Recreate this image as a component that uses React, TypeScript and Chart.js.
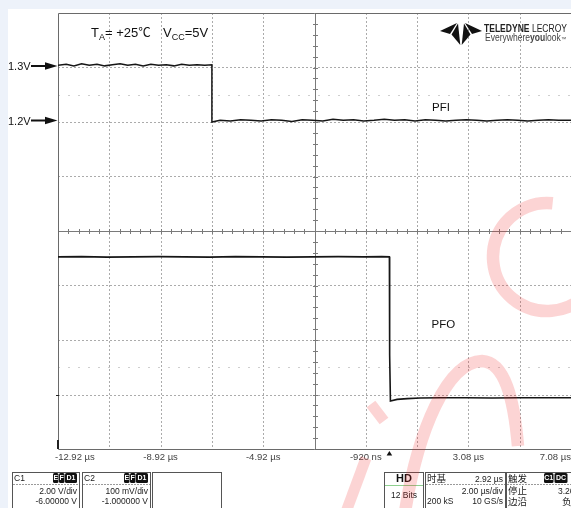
import React, { useEffect, useRef } from "react";
import { Chart, registerables } from "chart.js";

Chart.register(...registerables);

// ---------------- data ----------------
// time axis: 2.00 µs/div, delay 2.92 µs -> screen spans -12.92 .. 7.08 µs
const timeDivisions = [-12.92, -10.92, -8.92, -6.92, -4.92, -2.92, -0.92, 1.08, 3.08, 5.08, 7.08];
const timeTickValues = [-12.92, -8.92, -4.92, -0.92, 3.08, 7.08];
const timeTickLabels = ["-12.92 µs", "-8.92 µs", "-4.92 µs", "-920 ns", "3.08 µs", "7.08 µs"];
// C2 (PFI): 100 mV/div, offset -1.0 V  -> 0.6 .. 1.4 V on screen
const c2Divisions = [0.6, 0.7, 0.8, 0.9, 1.0, 1.1, 1.2, 1.3, 1.4];
const c2Min = 0.6;
const c2Max = 1.4;
// C1 (PFO): 2.00 V/div, offset -6.0 V -> -2 .. 14 V on screen
const c1Min = -2;
const c1Max = 14;
const triggerTime = 0;
const markerVolts = [1.3, 1.2];
const markerLabels = ["1.3V", "1.2V"];
const faintLevels = [1.25, 0.75];

// PFI trace (C2), time in µs, volts
const pfiTime = [
  -12.92, -12.6, -12.3, -12.0, -11.7, -11.4, -11.1, -10.8, -10.5, -10.2,
  -9.9, -9.6, -9.3, -9.0, -8.7, -8.4, -8.1, -7.8, -7.5, -7.2,
  -6.92, -6.92, -6.6, -6.2, -5.8, -5.4, -5.0, -4.6, -4.2, -3.8,
  -3.4, -3.0, -2.6, -2.2, -1.8, -1.4, -1.0, -0.6, -0.2, 0.2,
  0.6, 1.0, 1.4, 1.8, 2.2, 2.6, 3.0, 3.4, 3.8, 4.2,
  4.6, 5.0, 5.4, 5.8, 6.2, 6.6, 7.08,
];
const pfiVolts = [
  1.304, 1.306, 1.303, 1.307, 1.304, 1.306, 1.303, 1.305, 1.307, 1.304,
  1.306, 1.303, 1.306, 1.304, 1.305, 1.303, 1.306, 1.304, 1.305, 1.304,
  1.305, 1.2, 1.203, 1.202, 1.204, 1.203, 1.202, 1.204, 1.203, 1.201,
  1.204, 1.203, 1.202, 1.205, 1.203, 1.204, 1.202, 1.203, 1.205, 1.203,
  1.204, 1.202, 1.204, 1.203, 1.202, 1.203, 1.204, 1.203, 1.202, 1.203,
  1.204, 1.203, 1.202, 1.203, 1.204, 1.203, 1.203,
];

// PFO trace (C1), time in µs, volts
const pfoTime = [
  -12.92, -12.0, -11.0, -10.0, -9.0, -8.0, -7.0, -6.0, -5.0, -4.0,
  -3.0, -2.0, -1.0, -0.3, 0.0, 0.0, 0.02, 0.04, 0.3, 0.7,
  1.2, 2.0, 3.0, 4.0, 5.0, 6.0, 7.08,
];
const pfoVolts = [
  5.05, 5.06, 5.04, 5.05, 5.06, 5.05, 5.04, 5.06, 5.05, 5.04,
  5.05, 5.06, 5.05, 5.06, 5.05, 1.5, 1.45, -0.24, -0.18, -0.15,
  -0.13, -0.12, -0.12, -0.13, -0.12, -0.12, -0.12,
];

// ---------------- drawing helpers ----------------
const SANS = '"Liberation Sans", Arial, sans-serif';
const CJK = '"Noto Sans CJK SC", "Liberation Sans", sans-serif';

function line(ctx: CanvasRenderingContext2D, x0: number, y0: number, x1: number, y1: number) {
  ctx.beginPath();
  ctx.moveTo(x0, y0);
  ctx.lineTo(x1, y1);
  ctx.stroke();
}

function poly(ctx: CanvasRenderingContext2D, pts: number[][]) {
  ctx.beginPath();
  ctx.moveTo(pts[0][0], pts[0][1]);
  for (let i = 1; i < pts.length; i++) ctx.lineTo(pts[i][0], pts[i][1]);
  ctx.closePath();
  ctx.fill();
}

function badge(ctx: CanvasRenderingContext2D, x: number, y: number, w: number, h: number, t: string) {
  ctx.fillStyle = "#111";
  ctx.beginPath();
  ctx.roundRect(x, y, w, h, 1.5);
  ctx.fill();
  ctx.fillStyle = "#fff";
  ctx.font = `bold 7px ${SANS}`;
  ctx.textAlign = "center";
  ctx.textBaseline = "middle";
  ctx.fillText(t, x + w / 2, y + h / 2 + 0.5);
}

function panelBox(ctx: CanvasRenderingContext2D, x0: number, x1: number) {
  ctx.save();
  ctx.strokeStyle = "#555";
  ctx.lineWidth = 1;
  ctx.setLineDash([]);
  ctx.strokeRect(x0 + 0.5, 472.5, x1 - x0, 40);
  ctx.restore();
}

function dashSep(ctx: CanvasRenderingContext2D, x0: number, x1: number, y: number) {
  ctx.save();
  ctx.strokeStyle = "#9a9a9a";
  ctx.setLineDash([2, 1]);
  line(ctx, x0, y + 0.5, x1, y + 0.5);
  ctx.restore();
}

function txt(
  ctx: CanvasRenderingContext2D,
  t: string,
  x: number,
  y: number,
  align: CanvasTextAlign,
  font: string,
  color = "#222"
) {
  ctx.font = font;
  ctx.fillStyle = color;
  ctx.textAlign = align;
  ctx.textBaseline = "alphabetic";
  ctx.fillText(t, x, y);
}

function channelBox(ctx: CanvasRenderingContext2D, x0: number, x1: number, name: string, vdiv: string, offset: string) {
  panelBox(ctx, x0, x1);
  txt(ctx, name, x0 + 2, 481, "left", `8.5px ${SANS}`);
  badge(ctx, x1 - 26, 473, 5.5, 10, "E");
  badge(ctx, x1 - 20, 473, 5.5, 10, "F");
  badge(ctx, x1 - 14, 473, 12, 10, "D1");
  dashSep(ctx, x0 + 1, x1, 484);
  txt(ctx, vdiv, x1 - 2, 494, "right", `8.5px ${SANS}`);
  txt(ctx, offset, x1 - 2, 504, "right", `8.5px ${SANS}`);
}

const scopePlugin = {
  id: "scopeDecor",
  beforeDraw(chart: any) {
    const ctx: CanvasRenderingContext2D = chart.ctx;
    ctx.save();
    ctx.fillStyle = "#ffffff";
    ctx.fillRect(0, 0, chart.width, chart.height);
    ctx.fillStyle = "#edf2fa";
    ctx.fillRect(0, 0, chart.width, 9);
    ctx.fillRect(0, 0, 8, chart.height);
    ctx.restore();
  },
  beforeDatasetsDraw(chart: any) {
    const ctx: CanvasRenderingContext2D = chart.ctx;
    const { left: L, right: R, top: T, bottom: B } = chart.chartArea;
    const xs = chart.scales.x;
    const ys = chart.scales.y;
    const px = (v: number) => Math.round(xs.getPixelForValue(v)) + 0.5;
    const py = (v: number) => Math.round(ys.getPixelForValue(v)) + 0.5;
    ctx.save();
    ctx.lineWidth = 1;

    // faint dotted reference levels
    ctx.strokeStyle = "#cfcfcf";
    ctx.setLineDash([2, 8]);
    for (const v of faintLevels) line(ctx, L, py(v), R, py(v));

    // dashed division grid
    ctx.strokeStyle = "#ababab";
    ctx.setLineDash([2, 2]);
    const midT = Math.floor(timeDivisions.length / 2);
    timeDivisions.forEach((t, i) => {
      if (i === 0 || i === timeDivisions.length - 1 || i === midT) return;
      line(ctx, px(t), T, px(t), B);
    });
    const midV = Math.floor(c2Divisions.length / 2);
    c2Divisions.forEach((v, i) => {
      if (i === 0 || i === c2Divisions.length - 1 || i === midV) return;
      line(ctx, L, py(v), R, py(v));
    });

    // center cross with minor ticks
    ctx.setLineDash([]);
    ctx.strokeStyle = "#7a7a7a";
    const cx = px(timeDivisions[midT]);
    const cy = py(c2Divisions[midV]);
    line(ctx, L, cy, R, cy);
    line(ctx, cx, T, cx, B);
    const stepX = (xs.getPixelForValue(timeDivisions[1]) - xs.getPixelForValue(timeDivisions[0])) / 5;
    const stepY = (ys.getPixelForValue(c2Divisions[0]) - ys.getPixelForValue(c2Divisions[1])) / 5;
    for (let k = 1; k < (timeDivisions.length - 1) * 5; k++) {
      const xx = Math.round(L + k * stepX) + 0.5;
      line(ctx, xx, cy - 2.5, xx, cy + 2.5);
    }
    for (let k = 1; k < (c2Divisions.length - 1) * 5; k++) {
      const yy = Math.round(T + k * stepY) + 0.5;
      line(ctx, cx - 2.5, yy, cx + 2.5, yy);
    }

    // frame (left, top, bottom)
    ctx.strokeStyle = "#6a6a6a";
    line(ctx, L + 0.5, T + 0.5, R, T + 0.5);
    line(ctx, L + 0.5, T + 0.5, L + 0.5, B + 0.5);
    line(ctx, L + 0.5, B + 0.5, R, B + 0.5);

    // channel ground markers on left edge
    ctx.fillStyle = "#222";
    ctx.fillRect(L - 2, py(c2Divisions[1]) - 0.5, 3, 1);
    ctx.fillRect(L - 1, B - 9, 2, 9);
    ctx.restore();
  },
  afterDraw(chart: any) {
    const ctx: CanvasRenderingContext2D = chart.ctx;
    const { left: L, bottom: B } = chart.chartArea;
    const xs = chart.scales.x;
    const ys = chart.scales.y;
    const ys1 = chart.scales.y1;
    ctx.save();

    // time tick labels
    ctx.font = `9.5px ${SANS}`;
    ctx.fillStyle = "#444";
    ctx.textBaseline = "middle";
    timeTickValues.forEach((t, i) => {
      const x = xs.getPixelForValue(t);
      if (i === 0) {
        ctx.textAlign = "left";
        ctx.fillText(timeTickLabels[i], x - 3, 457);
      } else if (i === timeTickValues.length - 1) {
        ctx.textAlign = "right";
        ctx.fillText(timeTickLabels[i], chart.width, 457);
      } else {
        ctx.textAlign = "center";
        ctx.fillText(timeTickLabels[i], x, 457);
      }
    });

    // trigger marker
    const tx = xs.getPixelForValue(triggerTime);
    ctx.fillStyle = "#111";
    ctx.beginPath();
    ctx.moveTo(tx, B + 2);
    ctx.lineTo(tx - 2.8, B + 6.5);
    ctx.lineTo(tx + 2.8, B + 6.5);
    ctx.closePath();
    ctx.fill();

    // level arrows
    markerVolts.forEach((v, i) => {
      const y = ys.getPixelForValue(v) - 1.5;
      txt(ctx, markerLabels[i], 8, y + 4, "left", `11px ${SANS}`, "#111");
      ctx.strokeStyle = "#111";
      ctx.lineWidth = 2;
      line(ctx, 31, y, 47, y);
      ctx.fillStyle = "#111";
      ctx.beginPath();
      ctx.moveTo(45, y - 3.8);
      ctx.lineTo(L - 0.5, y);
      ctx.lineTo(45, y + 3.8);
      ctx.closePath();
      ctx.fill();
    });
    ctx.lineWidth = 1;

    // title  T_A= +25℃   V_CC=5V
    const base = 37;
    let x = 91;
    const big = `13px ${SANS}`;
    const sub = `9px ${SANS}`;
    const parts: [string, boolean][] = [["T", false], ["A", true], ["= +25", false], ["℃", false]];
    for (const [s, isSub] of parts) {
      ctx.font = isSub ? sub : s === "℃" ? `12.5px "Noto Sans CJK SC", ${SANS}` : big;
      ctx.fillStyle = "#111";
      ctx.textAlign = "left";
      ctx.textBaseline = "alphabetic";
      ctx.fillText(s, x, isSub ? base + 3 : base);
      x += ctx.measureText(s).width;
    }
    x = 163;
    const parts2: [string, boolean][] = [["V", false], ["CC", true], ["=5V", false]];
    for (const [s, isSub] of parts2) {
      ctx.font = isSub ? sub : big;
      ctx.fillStyle = "#111";
      ctx.fillText(s, x, isSub ? base + 3 : base);
      x += ctx.measureText(s).width;
    }

    // trace names
    txt(ctx, "PFI", xs.getPixelForValue(1.66), ys.getPixelForValue(1.228) + 4, "left", `11.5px ${SANS}`, "#111");
    txt(ctx, "PFO", xs.getPixelForValue(1.64), ys1.getPixelForValue(2.57) + 4, "left", `11.5px ${SANS}`, "#111");

    // logo symbol
    ctx.fillStyle = "#111";
    poly(ctx, [[440, 31], [457, 23], [450, 34]]);
    poly(ctx, [[458, 23.5], [451.5, 34.5], [460.3, 45]]);
    poly(ctx, [[464, 23.5], [470.5, 34.5], [461.7, 45]]);
    poly(ctx, [[482, 31], [465, 23], [472, 34]]);

    const fitRow = (segs: [string, string][], x0: number, x1: number, y: number, color: string) => {
      let w = 0;
      for (const [s, f] of segs) {
        ctx.font = f;
        w += ctx.measureText(s).width;
      }
      ctx.save();
      ctx.translate(x0, y);
      ctx.scale((x1 - x0) / w, 1);
      let cxp = 0;
      for (const [s, f] of segs) {
        ctx.font = f;
        ctx.fillStyle = color;
        ctx.textAlign = "left";
        ctx.textBaseline = "alphabetic";
        ctx.fillText(s, cxp, 0);
        cxp += ctx.measureText(s).width;
      }
      ctx.restore();
    };
    fitRow(
      [
        ["TELEDYNE", `bold 11.5px "Liberation Sans Narrow", ${SANS}`],
        [" LECROY", `11.5px "Liberation Sans Narrow", ${SANS}`],
      ],
      484,
      567,
      31.5,
      "#222"
    );
    fitRow(
      [
        ["Everywhere", `10px "Liberation Sans Narrow", ${SANS}`],
        ["you", `bold 10px "Liberation Sans Narrow", ${SANS}`],
        ["look", `10px "Liberation Sans Narrow", ${SANS}`],
        ["™", `6px ${SANS}`],
      ],
      485,
      566,
      41,
      "#444"
    );

    // bottom info panels
    channelBox(ctx, 12, 79, "C1", "2.00 V/div", "-6.00000 V");
    channelBox(ctx, 82, 150, "C2", "100 mV/div", "-1.000000 V");
    panelBox(ctx, 152, 221);

    panelBox(ctx, 384, 423);
    txt(ctx, "HD", 404, 482, "center", `bold 11px ${SANS}`, "#111");
    ctx.strokeStyle = "#8fd08f";
    ctx.lineWidth = 1;
    line(ctx, 385, 485.5, 423, 485.5);
    txt(ctx, "12 Bits", 404, 498, "center", `8.5px ${SANS}`);

    panelBox(ctx, 425, 505);
    txt(ctx, "时基", 427, 482, "left", `9.5px ${CJK}`);
    txt(ctx, "2.92 µs", 503, 482, "right", `8.5px ${SANS}`);
    dashSep(ctx, 426, 505, 484);
    txt(ctx, "2.00 µs/div", 503, 494, "right", `8.5px ${SANS}`);
    txt(ctx, "200 kS", 427, 504, "left", `8.5px ${SANS}`);
    txt(ctx, "10 GS/s", 503, 504, "right", `8.5px ${SANS}`);

    panelBox(ctx, 506, 600);
    txt(ctx, "触发", 508, 482, "left", `9.5px ${CJK}`);
    badge(ctx, 544, 473, 9.5, 10, "C1");
    badge(ctx, 554.5, 473, 13, 10, "DC");
    dashSep(ctx, 507, 571, 484);
    txt(ctx, "停止", 508, 494, "left", `9.5px ${CJK}`);
    txt(ctx, "3.26 V", 558, 494, "left", `8.5px ${SANS}`);
    txt(ctx, "边沿", 508, 505, "left", `9.5px ${CJK}`);
    txt(ctx, "负", 562, 505, "left", `9.5px ${CJK}`);

    // watermark
    ctx.globalAlpha = 0.2;
    ctx.strokeStyle = "#f02828";
    ctx.lineWidth = 12.5;
    ctx.lineCap = "butt";
    ctx.beginPath();
    ctx.arc(547, 257, 54, (40 * Math.PI) / 180, (276 * Math.PI) / 180);
    ctx.stroke();
    ctx.beginPath();
    ctx.moveTo(405, 512);
    ctx.bezierCurveTo(418, 430, 447, 362, 482, 361);
    ctx.bezierCurveTo(505, 362, 514, 400, 518, 446);
    ctx.stroke();
    ctx.lineWidth = 11;
    ctx.beginPath();
    ctx.moveTo(366, 458);
    ctx.lineTo(346, 512);
    ctx.stroke();
    ctx.beginPath();
    ctx.moveTo(371, 404);
    ctx.lineTo(384, 421);
    ctx.stroke();
    ctx.restore();
  },
};

export default function App() {
  const ref = useRef<HTMLCanvasElement>(null);
  useEffect(() => {
    if (!ref.current) return;
    const nPfi = Math.min(pfiTime.length, pfiVolts.length);
    const nPfo = Math.min(pfoTime.length, pfoVolts.length);
    const chart = new Chart(ref.current, {
      type: "line",
      data: {
        datasets: [
          {
            label: "PFI",
            data: pfiTime.slice(0, nPfi).map((t, i) => ({ x: t, y: pfiVolts[i] })),
            yAxisID: "y",
            borderColor: "#161616",
            borderWidth: 1.5,
            pointRadius: 0,
            tension: 0,
            fill: false,
          },
          {
            label: "PFO",
            data: pfoTime.slice(0, nPfo).map((t, i) => ({ x: t, y: pfoVolts[i] })),
            yAxisID: "y1",
            borderColor: "#161616",
            borderWidth: 1.6,
            pointRadius: 0,
            tension: 0,
            fill: false,
          },
        ],
      },
      options: {
        animation: false,
        responsive: false,
        maintainAspectRatio: false,
        devicePixelRatio: 1,
        layout: { padding: { left: 58, top: 13, right: 0, bottom: 59 } },
        plugins: { legend: { display: false }, tooltip: { enabled: false } },
        scales: {
          x: { type: "linear", min: timeDivisions[0], max: timeDivisions[timeDivisions.length - 1], display: false },
          y: { type: "linear", min: c2Min, max: c2Max, display: false },
          y1: { type: "linear", min: c1Min, max: c1Max, display: false },
        },
      },
      plugins: [scopePlugin],
    });
    return () => chart.destroy();
  }, []);
  return (
    <div style={{ position: "absolute", left: 0, top: 0, width: 571, height: 508, background: "#fff", overflow: "hidden" }}>
      <canvas ref={ref} width={571} height={508} style={{ display: "block", width: 571, height: 508 }} />
    </div>
  );
}
